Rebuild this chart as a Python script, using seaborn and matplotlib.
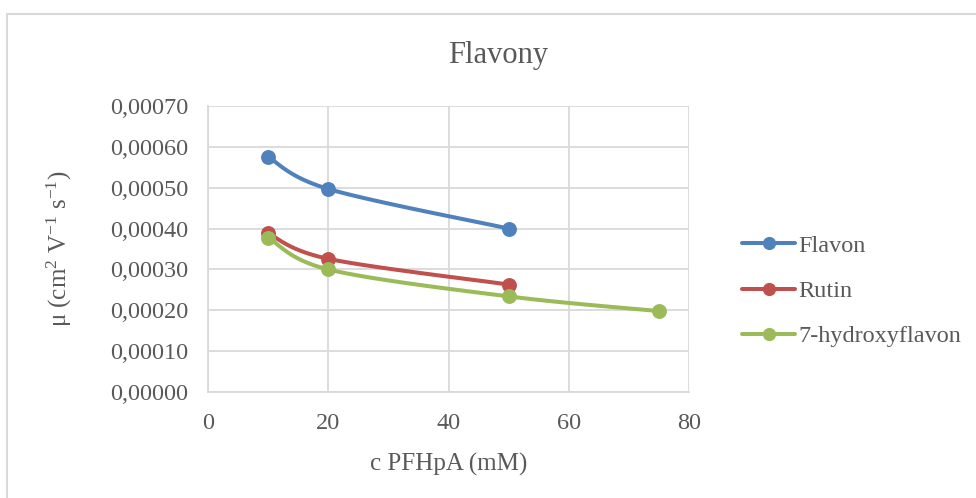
import numpy as np
import pandas as pd
import matplotlib
matplotlib.use("Agg")
import matplotlib.pyplot as plt
from matplotlib.lines import Line2D
import seaborn as sns

# Electrophoretic mobility of flavones vs. PFHpA concentration
conc_flavon = [10, 20, 50]
mu_flavon = [0.000575, 0.000497, 0.000400]
conc_rutin = [10, 20, 50]
mu_rutin = [0.000388, 0.000326, 0.000263]
conc_hydroxy = [10, 20, 50, 75]
mu_hydroxy = [0.000378, 0.000300, 0.000234, 0.000198]

series_names = ["Flavon", "Rutin", "7-hydroxyflavon"]
colors = ["#4F81BD", "#C0504D", "#9BBB59"]
y_ticks = [0.0, 0.0001, 0.0002, 0.0003, 0.0004, 0.0005, 0.0006, 0.0007]
x_ticks = [0, 20, 40, 60, 80]

sns.set_theme(style="white")
plt.rcParams["font.family"] = ["Liberation Serif", "DejaVu Serif"]
plt.rcParams["mathtext.fontset"] = "custom"
plt.rcParams["mathtext.rm"] = "Liberation Serif"
plt.rcParams["mathtext.default"] = "regular"

TEXT = "#595959"
GRID = "#D9D9D9"

W, H = 976, 498
fig = plt.figure(figsize=(W / 100, H / 100), dpi=100)
ax = fig.add_axes([208 / W, 1 - 392 / H, (689 - 208) / W, (392 - 106) / H])


def smooth(xs, ys, n=40):
    """Bezier smoothing through the points (Catmull-Rom style control points)."""
    xs = np.asarray(xs, float)
    ys = np.asarray(ys, float)
    px, py = [], []
    m = len(xs)
    for i in range(m - 1):
        p0 = np.array([xs[max(i - 1, 0)], ys[max(i - 1, 0)]])
        p1 = np.array([xs[i], ys[i]])
        p2 = np.array([xs[i + 1], ys[i + 1]])
        p3 = np.array([xs[min(i + 2, m - 1)], ys[min(i + 2, m - 1)]])
        c1 = p1 + (p2 - p0) / 6.0
        c2 = p2 - (p3 - p1) / 6.0
        t = np.linspace(0, 1, n)[:, None]
        pts = ((1 - t) ** 3) * p1 + 3 * ((1 - t) ** 2) * t * c1 + 3 * (1 - t) * t ** 2 * c2 + t ** 3 * p2
        px.extend(pts[:, 0])
        py.extend(pts[:, 1])
    return np.array(px), np.array(py)


all_series = [
    (conc_flavon, mu_flavon),
    (conc_rutin, mu_rutin),
    (conc_hydroxy, mu_hydroxy),
]

for (xs, ys), name, col in zip(all_series, series_names, colors):
    sx, sy = smooth(xs, ys)
    curve = pd.DataFrame({"x": sx, "y": sy})
    sns.lineplot(data=curve, x="x", y="y", sort=False, ax=ax, color=col,
                 linewidth=2.9, zorder=3, estimator=None)
    pts = pd.DataFrame({"x": xs, "y": ys})
    sns.scatterplot(data=pts, x="x", y="y", ax=ax, color=col, s=115,
                    edgecolor=col, linewidth=0, zorder=4)

ax.set_xlim(0, 80)
ax.set_ylim(0, 0.0007)
ax.set_xticks(x_ticks)
ax.set_yticks(y_ticks)
ax.set_xticklabels([str(v) for v in x_ticks])
ax.set_yticklabels([f"{v:.5f}".replace(".", ",") for v in y_ticks])
ax.grid(True, color=GRID, linewidth=1.3)
ax.set_axisbelow(True)
for side in ["top", "right"]:
    ax.spines[side].set_visible(False)
for side in ["left", "bottom"]:
    ax.spines[side].set_color(GRID)
    ax.spines[side].set_linewidth(1.3)
ax.tick_params(axis="both", length=0, labelsize=17.5, colors=TEXT)
ax.tick_params(axis="y", pad=14)
ax.tick_params(axis="x", pad=15)

ax.set_xlabel("c PFHpA (mM)", fontsize=18, color=TEXT, labelpad=14)
ax.set_ylabel(r"μ (cm$^{2}$ V$^{-1}$ s$^{-1}$)", fontsize=18, color=TEXT, labelpad=26)

fig.text(498 / W, 1 - 56 / H, "Flavony", ha="center", va="center",
         fontsize=22, color=TEXT)

handles = [Line2D([0], [0], color=c, linewidth=2.9, marker="o", markersize=8.5)
           for c in colors]
leg = fig.legend(handles, series_names, loc="center left",
                 bbox_to_anchor=(742 / W, 1 - 291 / H), frameon=False,
                 fontsize=17.5, handlelength=2.2, handletextpad=0.12,
                 labelspacing=0.95, borderaxespad=0, borderpad=0)
for t in leg.get_texts():
    t.set_color(TEXT)

# chart border
fig.add_artist(Line2D([7 / W, 1], [1 - 14 / H, 1 - 14 / H], color=GRID, linewidth=1.5,
                      transform=fig.transFigure))
fig.add_artist(Line2D([7 / W, 7 / W], [0, 1 - 14 / H], color=GRID, linewidth=1.5,
                      transform=fig.transFigure))

fig.savefig("out.png", dpi=100, facecolor="white")
